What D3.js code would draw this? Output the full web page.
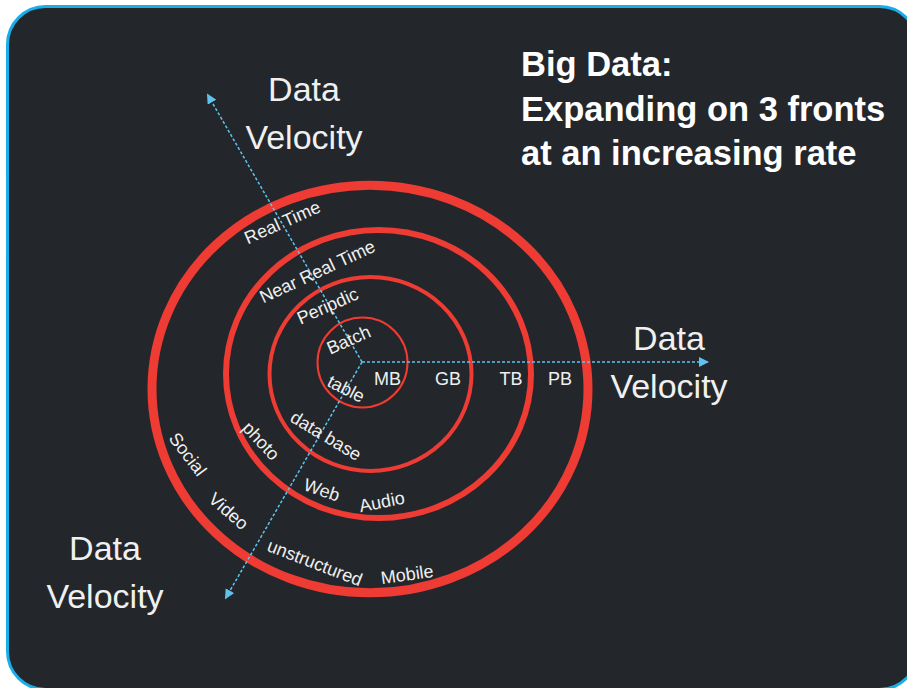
<!DOCTYPE html>
<html>
<head>
<meta charset="utf-8">
<script src="https://cdn.jsdelivr.net/npm/d3@7"></script>
<style>
  html, body { margin: 0; padding: 0; background: #ffffff; }
  svg { display: block; font-family: "Liberation Sans", Arial, sans-serif; }
</style>
</head>
<body>
<div id="bigData"></div>
<script>
//********************************************************************//
//
//                    DATA
//
//*******************************************************************//

  var titleLines = ["Big Data:", "Expanding on 3 fronts", "at an increasing rate"];
  var axisNames = ["Data Velocity", "Data Velocity", "Data Velocity"];

  // one ring per level, innermost first
  var speedLevels = ["Batch", "Peripdic", "Near Real Time", "Real Time"];
  var volumeUnits = ["MB", "GB", "TB", "PB"];
  var varietyLevels = [["table"],
                       ["data base"],
                       ["photo", "Web", "Audio"],
                       ["Social", "Video", "unstructured", "Mobile"]];

//********************************************************************//
//
//                    LAYOUT
//
//*******************************************************************//

  var width = 907,
      height = 688,
      cx = 362,
      cy = 362;

  var bg = "#23272b",
      ringColor = "#ee3b33",
      axisColor = "#5ec3ee",
      textColor = "#f0f0f0";

  // ring index -> radius; the rings are hand drawn so each one is a bit
  // off centre and slightly squashed
  var ringR = d3.scaleLinear().domain([0, 1, 2, 3]).range([45, 101, 152.5, 218]);
  var ringShape = [{dx: 0.5, dy: 0.5, squash: 1.0, w: 2},
                   {dx: 8.5, dy: 12, squash: 0.96, w: 4},
                   {dx: 16.5, dy: 12, squash: 0.945, w: 6},
                   {dx: 8, dy: 27, squash: 0.935, w: 9}];

  // the three fronts (angle in degrees, length of the arrow)
  var fronts = [{angle: 0, len: 346, label: [669, 350]},
                {angle: -120, len: 309, label: [304, 101]},
                {angle: 120, len: 273, label: [105, 560]}];

  // label placement: [angle, distance from centre, rotation]
  var speedPos = [[-121, 26, -24], [-121.5, 66, -24], [-116.3, 101, -25], [-119.7, 161, -24]];
  var volumePos = [25.5, 86, 149, 198];
  var varietyPos = [[[120.7, 31, 27]],
                    [[116, 82, 31]],
                    [[142, 128, 47], [107.4, 134, 19], [81.9, 141, -11]],
                    [[152.1, 197, 53], [131.8, 200, 41], [103.2, 206, 21], [78, 217, -8]]];

  function polar(angle, dist) {
    var a = angle * Math.PI / 180;
    return [cx + dist * Math.cos(a), cy + dist * Math.sin(a)];
  }

//********************************************************************//
//
//                    DRAW
//
//*******************************************************************//

  var svg = d3.select("#bigData")
              .append("svg")
              .attr("width", width)
              .attr("height", height);

  // the card
  svg.append("rect")
     .attr("x", 7.5)
     .attr("y", 6.5)
     .attr("width", 910)
     .attr("height", 683)
     .attr("rx", 38)
     .attr("fill", bg)
     .attr("stroke", "#19aee8")
     .attr("stroke-width", 3);

  svg.append("defs")
     .append("marker")
     .attr("id", "tip")
     .attr("viewBox", "0 0 10 10")
     .attr("refX", 9)
     .attr("refY", 5)
     .attr("markerWidth", 10)
     .attr("markerHeight", 10)
     .attr("markerUnits", "userSpaceOnUse")
     .attr("orient", "auto")
     .append("path")
     .attr("d", "M0,0L10,5L0,10Z")
     .attr("fill", axisColor);

  // rings
  svg.selectAll("ellipse.ring")
     .data(speedLevels)
     .enter()
     .append("ellipse")
     .attr("class", "ring")
     .attr("cx", function(d, i) { return cx + ringShape[i].dx; })
     .attr("cy", function(d, i) { return cy + ringShape[i].dy; })
     .attr("rx", function(d, i) { return ringR(i); })
     .attr("ry", function(d, i) { return ringR(i) * ringShape[i].squash; })
     .attr("fill", "none")
     .attr("stroke", ringColor)
     .attr("stroke-width", function(d, i) { return ringShape[i].w; });

  // dotted axes
  svg.selectAll("line.front")
     .data(fronts)
     .enter()
     .append("line")
     .attr("class", "front")
     .attr("x1", cx)
     .attr("y1", cy)
     .attr("x2", function(d) { return polar(d.angle, d.len)[0]; })
     .attr("y2", function(d) { return polar(d.angle, d.len)[1]; })
     .attr("stroke", axisColor)
     .attr("stroke-width", 1.5)
     .attr("stroke-dasharray", "3,2")
     .attr("marker-end", "url(#tip)");

  // axis names, two lines each
  var names = svg.selectAll("text.axisName")
                 .data(fronts)
                 .enter()
                 .append("text")
                 .attr("class", "axisName")
                 .attr("text-anchor", "middle")
                 .attr("fill", textColor)
                 .style("font-size", "34px");

  names.each(function(d, i) {
    var words = axisNames[i].split(" ");
    d3.select(this).selectAll("tspan")
      .data(words)
      .enter()
      .append("tspan")
      .attr("x", d.label[0])
      .attr("y", function(w, j) { return d.label[1] + j * 48; })
      .text(function(w) { return w; });
  });

  // velocity levels along the upper axis
  svg.selectAll("text.speed")
     .data(speedLevels)
     .enter()
     .append("text")
     .attr("class", "speed")
     .attr("transform", function(d, i) {
        var p = polar(speedPos[i][0], speedPos[i][1]);
        return "translate(" + p[0] + "," + p[1] + ") rotate(" + speedPos[i][2] + ")";
     })
     .attr("dy", "0.35em")
     .attr("text-anchor", "middle")
     .attr("fill", textColor)
     .style("font-size", "18px")
     .text(function(d) { return d; });

  // volume units along the right axis
  svg.selectAll("text.volume")
     .data(volumeUnits)
     .enter()
     .append("text")
     .attr("class", "volume")
     .attr("x", function(d, i) { return cx + volumePos[i]; })
     .attr("y", cy + 17)
     .attr("dy", "0.35em")
     .attr("text-anchor", "middle")
     .attr("fill", textColor)
     .style("font-size", "18px")
     .text(function(d) { return d; });

  // variety items in the lower part of each ring
  var variety = [];
  varietyLevels.forEach(function(items, i) {
    items.forEach(function(item, j) {
      variety.push({name: item, pos: varietyPos[i][j]});
    });
  });

  svg.selectAll("text.variety")
     .data(variety)
     .enter()
     .append("text")
     .attr("class", "variety")
     .attr("transform", function(d) {
        var p = polar(d.pos[0], d.pos[1]);
        return "translate(" + p[0] + "," + p[1] + ") rotate(" + d.pos[2] + ")";
     })
     .attr("dy", "0.35em")
     .attr("text-anchor", "middle")
     .attr("fill", textColor)
     .style("font-size", "18px")
     .text(function(d) { return d.name; });

  // title
  svg.append("text")
     .attr("fill", "#ffffff")
     .style("font-size", "34.5px")
     .style("font-weight", "bold")
     .selectAll("tspan")
     .data(titleLines)
     .enter()
     .append("tspan")
     .attr("x", 521)
     .attr("y", function(d, i) { return 76 + i * 44.5; })
     .text(function(d) { return d; });
</script>
</body>
</html>
